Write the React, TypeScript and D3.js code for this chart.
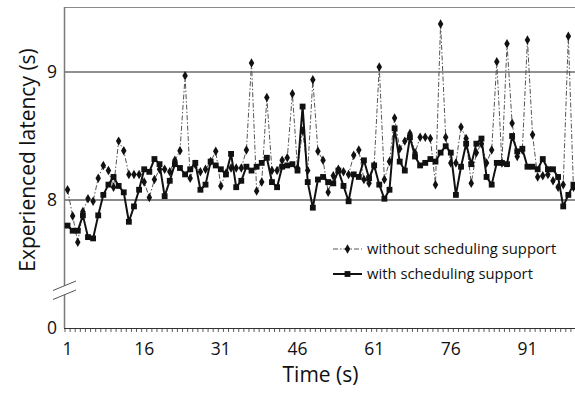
import React, { useEffect } from 'react';
import * as d3 from 'd3';

// latency per second
const withoutSupport = [
  8.08, 7.875, 7.67, 7.91, 8.01, 7.99, 8.17, 8.27, 8.23, 8.10,
  8.46, 8.385, 8.20, 8.20, 8.20, 8.14, 8.02, 8.16, 8.24, 8.24,
  8.22, 8.31, 8.385, 8.97, 8.17, 8.28, 8.22, 8.24, 8.30, 8.38,
  8.11, 8.21, 8.25, 8.25, 8.25, 8.39, 9.07, 8.07, 8.14, 8.80,
  8.23, 8.23, 8.31, 8.33, 8.83, 8.25, 8.54, 8.23, 8.94, 8.38,
  8.31, 8.06, 8.19, 8.24, 8.22, 8.20, 8.35, 8.39, 8.16, 8.13,
  8.27, 9.04, 8.16, 8.30, 8.64, 8.40, 8.46, 8.52, 8.37, 8.49,
  8.49, 8.48, 8.12, 9.375, 8.49, 8.29, 8.29, 8.57, 8.48, 8.13,
  8.37, 8.44, 8.29, 8.39, 9.08, 8.29, 9.22, 8.60, 8.34, 8.39,
  9.25, 8.51, 8.18, 8.19, 8.20, 8.15, 8.10, 8.12, 9.28, 8.10,
];

const withSupport = [
  7.80, 7.76, 7.76, 7.88, 7.71, 7.70, 7.88, 8.04, 8.12, 8.18,
  8.11, 8.06, 7.83, 7.95, 8.08, 8.24, 8.22, 8.32, 8.28, 8.03,
  8.15, 8.28, 8.25, 8.20, 8.24, 8.29, 8.08, 8.12, 8.30, 8.27,
  8.24, 8.20, 8.36, 8.10, 8.15, 8.26, 8.23, 8.26, 8.29, 8.33,
  8.14, 8.10, 8.26, 8.27, 8.28, 8.23, 8.73, 8.14, 7.94, 8.16,
  8.18, 8.14, 8.13, 8.23, 8.11, 7.99, 8.20, 8.18, 8.31, 8.17,
  8.27, 8.12, 8.01, 8.08, 8.56, 8.30, 8.23, 8.49, 8.34, 8.27,
  8.29, 8.32, 8.30, 8.37, 8.42, 8.37, 8.04, 8.26, 8.44, 8.28,
  8.44, 8.48, 8.18, 8.12, 8.29, 8.29, 8.28, 8.50, 8.38, 8.40,
  8.26, 8.26, 8.24, 8.32, 8.24, 8.24, 8.18, 7.95, 8.04, 8.12,
];

const xTickLabels = [1, 16, 31, 46, 61, 76, 91];
const yGridValues = [8, 9];
const yBreakLabel = '0';
const legendLabels = ['without scheduling support', 'with scheduling support'];

const FONT = '"Open Sans", "DejaVu Sans", sans-serif';

export default function App() {
  useEffect(() => {
    document.body.style.margin = '0';
  }, []);

  const width = 575;
  const height = 393;
  const plot = { left: 65, right: 576, top: 8, bottom: 328 };
  const n = withSupport.length;

  const x = d3.scaleLinear().domain([0.5, n + 0.5]).range([plot.left, plot.right]);
  // axis really starts at 7, drawn as 0 behind a break
  const y = d3.scaleLinear().domain([7, 9.5]).range([plot.bottom, plot.top]);

  const line = d3.line<number>()
    .x((_, i) => x(i + 1))
    .y(d => y(d));

  const diamond = d3.symbol().type(d3.symbolDiamond).size(26)() as string;
  const square = d3.symbol().type(d3.symbolSquare).size(34)() as string;

  const minorTicks = d3.range(0, n + 1).map(k => x(k + 0.5));
  const dash = '5,2,1.5,2';

  return (
    <svg width={width} height={height} style={{ display: 'block', fontFamily: FONT }}>
      <rect width={width} height={height} fill="#fff" />

      {/* frame / gridlines */}
      <line x1={plot.left} x2={width} y1={plot.top - 0.5} y2={plot.top - 0.5} stroke="#8a8a8a" strokeWidth={1} />
      {yGridValues.map(v => (
        <line key={v} x1={plot.left} x2={width} y1={y(v)} y2={y(v)}
          stroke={v === 8 ? '#8a8a8a' : '#222'} strokeWidth={v === 8 ? 1.8 : 1} />
      ))}
      <line x1={plot.left - 0.5} x2={plot.left - 0.5} y1={plot.top - 1} y2={plot.bottom} stroke="#7a7a7a" strokeWidth={1.5} />
      <line x1={plot.left - 1} x2={width} y1={plot.bottom + 0.5} y2={plot.bottom + 0.5} stroke="#333" strokeWidth={1} />
      {minorTicks.map((tx, i) => (
        <line key={i} x1={tx} x2={tx} y1={plot.bottom + 0.5} y2={plot.bottom + 4} stroke="#333" strokeWidth={0.8} />
      ))}

      {/* axis break */}
      <polygon points="52,291 77,280.5 77,289.5 52,300" fill="#fff" />
      <line x1={53} y1={290.5} x2={76} y2={281} stroke="#555" strokeWidth={1} />
      <line x1={53} y1={299.5} x2={76} y2={290} stroke="#555" strokeWidth={1} />

      {/* tick labels */}
      {yGridValues.map(v => (
        <text key={v} x={57} y={y(v)} dy="0.36em" textAnchor="end" fontSize={17.5} fill="#111">{v}</text>
      ))}
      <text x={57} y={plot.bottom} dy="0.36em" textAnchor="end" fontSize={17.5} fill="#111">{yBreakLabel}</text>
      {xTickLabels.map(t => (
        <text key={t} x={x(t)} y={355} textAnchor="middle" fontSize={17.5} fill="#111">{t}</text>
      ))}

      {/* axis titles */}
      <text x={(plot.left + plot.right) / 2} y={382} textAnchor="middle" fontSize={21} fill="#111">Time (s)</text>
      <text transform={`translate(35,${160}) rotate(-90)`} textAnchor="middle" fontSize={21} fill="#111">
        Experienced latency (s)
      </text>

      {/* series */}
      <path d={line(withoutSupport) ?? ''} fill="none" stroke="#555" strokeWidth={1} strokeDasharray={dash} />
      {withoutSupport.map((v, i) => (
        <path key={i} d={diamond} transform={`translate(${x(i + 1)},${y(v)})`} fill="#111" />
      ))}
      <path d={line(withSupport) ?? ''} fill="none" stroke="#111" strokeWidth={2} strokeLinejoin="round" />
      {withSupport.map((v, i) => (
        <path key={i} d={square} transform={`translate(${x(i + 1)},${y(v)})`} fill="#111" />
      ))}

      {/* legend */}
      <g>
        <line x1={333} x2={362} y1={249} y2={249} stroke="#555" strokeWidth={1} strokeDasharray={dash} />
        <path d={diamond} transform="translate(347.5,249)" fill="#111" />
        <text x={367} y={249} dy="0.35em" fontSize={14.8} fill="#111">{legendLabels[0]}</text>
        <line x1={333} x2={362} y1={274} y2={274} stroke="#111" strokeWidth={2} />
        <path d={square} transform="translate(347.5,274)" fill="#111" />
        <text x={367} y={274} dy="0.35em" fontSize={14.8} fill="#111">{legendLabels[1]}</text>
      </g>
    </svg>
  );
}
